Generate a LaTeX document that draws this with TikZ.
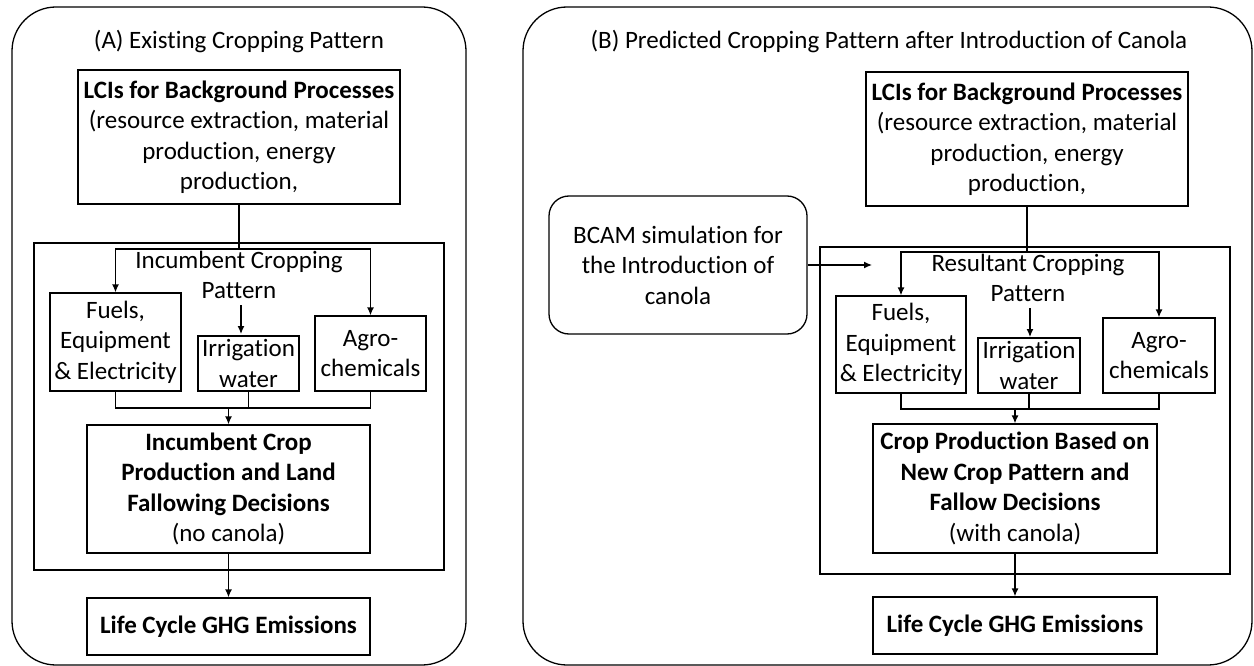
\documentclass[tikz,border=0pt]{standalone}
\usepackage{fontspec}
\setmainfont{Carlito}[Ligatures=NoCommon]
\usetikzlibrary{arrows.meta}
\begin{document}
\begin{tikzpicture}[x=1pt,y=-1pt,
  every node/.style={font=\fontsize{25}{30.5}\selectfont, inner sep=0pt, align=center},
  box/.style={draw, line width=1.3pt},
  frame/.style={draw, line width=1.3pt, rounded corners=44pt},
  inner/.style={draw, line width=1.3pt},
  ln/.style={line width=1.3pt},
  arr/.style={line width=1.3pt, -{Latex[length=8pt,width=7pt]}}]
\useasboundingbox (0,0) rectangle (1254,666);
% ---------- Panel A ----------
\node[frame, minimum width=454pt, minimum height=658pt] (frA) at (239,336) {};
\node (titA) at (239,42) {(A) Existing Cropping Pattern};
\node[box, minimum width=322pt, minimum height=134pt] (lciA) at (239,137)
  {\textbf{LCIs for Background Processes}\\(resource extraction, material\\production, energy\\production,};
\node[inner, minimum width=410pt, minimum height=327pt] (inA) at (239,406.5) {};
\node (patA) at (239,275) {Incumbent Cropping\\Pattern};
\node[box, minimum width=131pt, minimum height=98pt] (fuelA) at (115.5,342) {Fuels,\\Equipment\\\& Electricity};
\node[box, minimum width=101pt, minimum height=55pt] (irrA) at (248.5,363.5) {Irrigation\\water};
\node[box, minimum width=111pt, minimum height=75pt] (agroA) at (370.5,353.5) {Agro-\\chemicals};
\node[box, minimum width=283pt, minimum height=128pt] (cropA) at (228.5,489)
  {\textbf{Incumbent Crop}\\\textbf{Production and Land}\\\textbf{Fallowing Decisions}\\(no canola)};
\node[box, minimum width=283pt, minimum height=57pt] (ghgA) at (228.5,626.5) {\textbf{Life Cycle GHG Emissions}};
\coordinate (brA) at (239,249);
\coordinate (mA) at (228.5,408);
\draw[ln] (lciA.south) -- (brA);
\draw[arr] (brA) -| (fuelA.north);
\draw[arr] (brA) -| (agroA.north);
\draw[arr] (241,305) -- (241,334);
\draw[ln] (fuelA.south) |- (agroA.south |- mA) -- (agroA.south);
\draw[ln] (irrA.south) -- (irrA.south |- mA);
\draw[arr] (mA) -- (cropA.north);
\draw[arr] (cropA.south) -- (ghgA.north);
% ---------- Panel B ----------
\node[frame, minimum width=729pt, minimum height=658pt] (frB) at (887.5,336) {};
\node (titB) at (889,42) {(B) Predicted Cropping Pattern after Introduction of Canola};
\node[box, minimum width=322pt, minimum height=134pt] (lciB) at (1027,139)
  {\textbf{LCIs for Background Processes}\\(resource extraction, material\\production, energy\\production,};
\node[draw, line width=1.3pt, rounded corners=20pt, minimum width=258pt, minimum height=138pt] (bcam) at (678,265)
  {BCAM simulation for\\the Introduction of\\canola};
\node[inner, minimum width=410pt, minimum height=327pt] (inB) at (1025,410.5) {};
\node (patB) at (1028,278) {Resultant Cropping\\Pattern};
\node[box, minimum width=130pt, minimum height=97pt] (fuelB) at (901,344.5) {Fuels,\\Equipment\\\& Electricity};
\node[box, minimum width=102pt, minimum height=55pt] (irrB) at (1029,365.5) {Irrigation\\water};
\node[box, minimum width=112pt, minimum height=75pt] (agroB) at (1159,355.5) {Agro-\\chemicals};
\node[box, minimum width=284pt, minimum height=129pt] (cropB) at (1015,488.5)
  {\textbf{Crop Production Based on}\\\textbf{New Crop Pattern and}\\\textbf{Fallow Decisions}\\(with canola)};
\node[box, minimum width=284pt, minimum height=57pt] (ghgB) at (1015,625.5) {\textbf{Life Cycle GHG Emissions}};
\coordinate (brB) at (1027,252);
\coordinate (mB) at (1015,409);
\coordinate (bcEnd) at (872,265);
\draw[ln] (lciB.south) -- (brB);
\draw[arr] (brB) -| (fuelB.north);
\draw[arr] (brB) -| (agroB.north);
\draw[arr] (1030,308) -- (1030,337);
\draw[ln] (fuelB.south) |- (agroB.south |- mB) -- (agroB.south);
\draw[ln] (irrB.south) -- (irrB.south |- mB);
\draw[arr] (mB) -- (cropB.north);
\draw[arr] (cropB.south) -- (ghgB.north);
\draw[arr] (bcam.east) -- (bcEnd);
\end{tikzpicture}
\end{document}
